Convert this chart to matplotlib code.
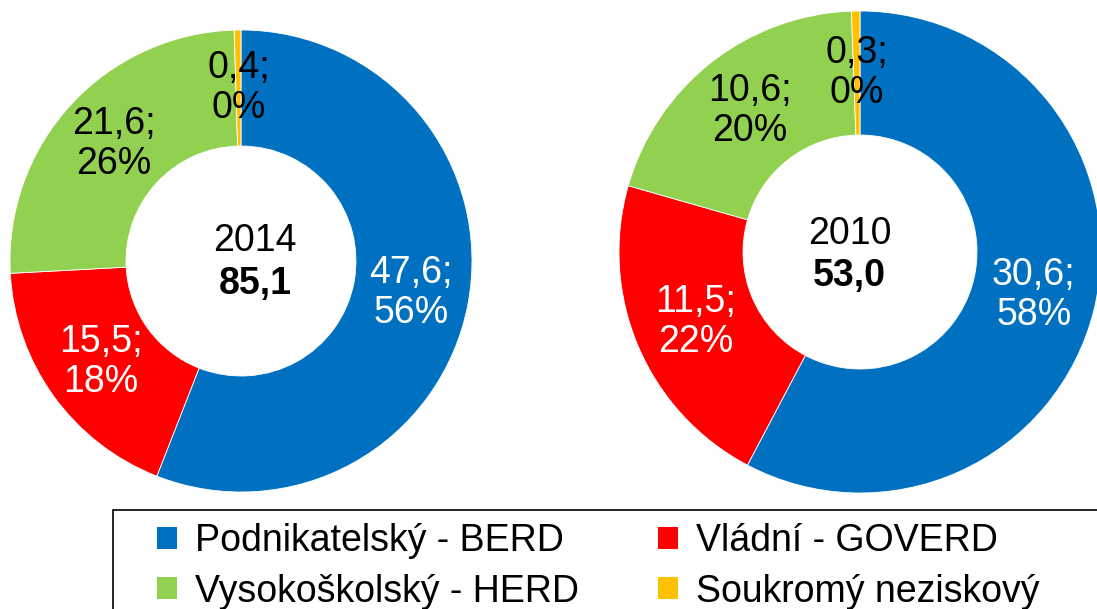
import matplotlib.pyplot as plt
from matplotlib.patches import Rectangle

plt.rcParams['font.family'] = ['Liberation Sans', 'DejaVu Sans']

sectors = ['Podnikatelský - BERD', 'Vládní - GOVERD',
           'Vysokoškolský - HERD', 'Soukromý neziskový']
colours = ['#0070C0', '#FF0000', '#92D050', '#FFC000']
text_colours = ['white', 'white', 'black', 'black']

# values in bn CZK and shares as printed on the chart
vals_2014 = [47.6, 15.5, 21.6, 0.4]
pct_2014 = [56, 18, 26, 0]
total_2014 = '85,1'

vals_2010 = [30.6, 11.5, 10.6, 0.3]
pct_2010 = [58, 22, 20, 0]
total_2010 = '53,0'

W, H = 1097, 609
FS = 27
fig = plt.figure(figsize=(W / 100, H / 100), dpi=100)
ax = fig.add_axes([0, 0, 1, 1])


def donut(vals, pcts, centre, r_out, r_in, year, total, year_xy, total_xy):
    labels = ['%s;\n%d%%' % (str(v).replace('.', ','), p) for v, p in zip(vals, pcts)]
    wedges, texts = ax.pie(vals, labels=labels, colors=colours, startangle=90,
                           counterclock=False, radius=r_out, center=centre,
                           labeldistance=(r_out + r_in) / 2 / r_out,
                           wedgeprops=dict(width=r_out - r_in, edgecolor='white', linewidth=0.6))
    for t, c in zip(texts, text_colours):
        t.set_ha('center')
        t.set_va('center')
        t.set_color(c)
        t.set_fontsize(FS)
        t.set_linespacing(1.15)
    ax.text(year_xy[0], H - year_xy[1], year, ha='center', va='center', fontsize=FS)
    ax.text(total_xy[0], H - total_xy[1], total, ha='center', va='center',
            fontsize=FS, fontweight='bold')


donut(vals_2014, pct_2014, (241, H - 261), 231, 115, '2014', total_2014, (255, 241), (255, 284))
donut(vals_2010, pct_2010, (860, H - 252), 241, 117, '2010', total_2010, (850, 234), (849, 276))

ax.set_xlim(0, W)
ax.set_ylim(0, H)
ax.set_aspect('equal')
ax.axis('off')

# legend box runs past the right and bottom edges
ax.add_patch(Rectangle((113, -20), 1100, H - 510 + 20, facecolor='none',
                       edgecolor='black', linewidth=1.2, clip_on=False))
handles = [Rectangle((0, 0), 1, 1, facecolor=c) for c in colours]
order = [0, 2, 1, 3]
ax.legend([handles[i] for i in order], [sectors[i] for i in order],
          loc='upper left', bbox_to_anchor=(157 / W, 1 - 523 / H), ncol=2,
          frameon=False, fontsize=FS, handlelength=0.53, handleheight=0.53,
          handletextpad=0.48, columnspacing=2.1, labelspacing=0.39,
          borderaxespad=0, borderpad=0)

fig.savefig('out.png', dpi=100)
